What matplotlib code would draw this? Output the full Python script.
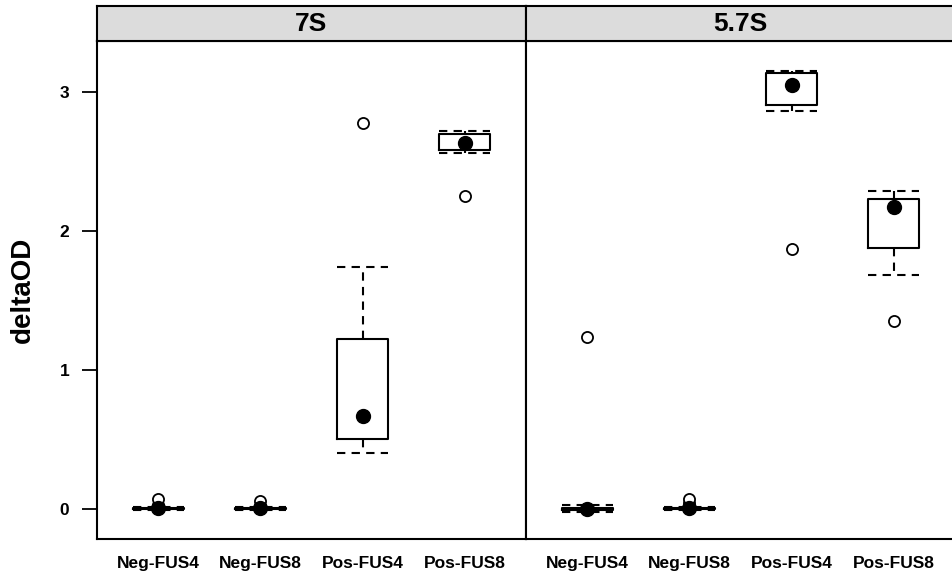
"""Lattice-style box-and-whisker panels of deltaOD for 7S and 5.7S."""

import matplotlib
matplotlib.use("Agg")
import matplotlib.pyplot as plt

plt.rcParams["font.family"] = ["Liberation Sans", "DejaVu Sans"]
plt.rcParams["font.weight"] = "bold"

panels = ["7S", "5.7S"]
groups = ["Neg-FUS4", "Neg-FUS8", "Pos-FUS4", "Pos-FUS8"]

# box stats, one list per panel
whislo = {"7S": [-0.005, -0.005, 0.40, 2.56], "5.7S": [-0.02, -0.005, 2.86, 1.68]}
q1 = {"7S": [0.0, 0.0, 0.50, 2.58], "5.7S": [-0.005, 0.0, 2.91, 1.88]}
med = {"7S": [0.005, 0.005, 0.67, 2.63], "5.7S": [0.0, 0.005, 3.05, 2.17]}
q3 = {"7S": [0.01, 0.01, 1.22, 2.70], "5.7S": [0.01, 0.01, 3.14, 2.23]}
whishi = {"7S": [0.015, 0.015, 1.74, 2.72], "5.7S": [0.03, 0.015, 3.15, 2.29]}
fliers = {
    "7S": [[0.03, 0.07], [0.02, 0.055], [2.78], [2.25]],
    "5.7S": [[1.24], [0.04, 0.075], [1.87], [1.35]],
}

W, H = 953, 573
fig = plt.figure(figsize=(W / 100, H / 100), dpi=100)

panel_left = [97, 526]
panel_w = 429
panel_top, panel_bot = 41, 539
strip_top = 6

dash = (0, (4, 3))
positions = list(range(1, len(groups) + 1))

for i, name in enumerate(panels):
    x0 = panel_left[i] / W
    ax = fig.add_axes([x0, 1 - panel_bot / H, panel_w / W, (panel_bot - panel_top) / H])
    stats = []
    for j, g in enumerate(groups):
        stats.append({
            "label": g,
            "whislo": whislo[name][j],
            "q1": q1[name][j],
            "med": med[name][j],
            "mean": med[name][j],
            "q3": q3[name][j],
            "whishi": whishi[name][j],
            "fliers": fliers[name][j],
        })
    ax.bxp(
        stats,
        positions=positions,
        widths=0.5,
        capwidths=0.5,
        showmeans=True,
        boxprops=dict(color="black", linewidth=1.5),
        whiskerprops=dict(color="black", linewidth=1.5, linestyle=dash),
        capprops=dict(color="black", linewidth=1.5, linestyle=dash),
        medianprops=dict(linestyle="none"),
        meanprops=dict(marker="o", markerfacecolor="black", markeredgecolor="black",
                       markersize=10),
        flierprops=dict(marker="o", markerfacecolor="white", markeredgecolor="black",
                        markersize=8, markeredgewidth=1.3),
    )
    ax.set_xlim(0.4, 4.6)
    ax.set_ylim(-0.216, 3.367)
    ax.set_xticks(positions)
    ax.set_xticklabels(groups, fontsize=12.5, fontweight="bold")
    ax.tick_params(axis="x", length=0, pad=12)
    if i == 0:
        ax.set_yticks([0, 1, 2, 3])
        ax.set_yticklabels(["0", "1", "2", "3"], fontsize=12.5, fontweight="bold")
        ax.tick_params(axis="y", length=11, width=1.3, pad=9)
    else:
        ax.set_yticks([])
    for sp in ax.spines.values():
        sp.set_linewidth(1.5)

    # strip on top of the panel
    sax = fig.add_axes([x0, 1 - panel_top / H, panel_w / W, (panel_top - strip_top) / H])
    sax.set_facecolor("#dcdcdc")
    sax.set_xticks([])
    sax.set_yticks([])
    for sp in sax.spines.values():
        sp.set_linewidth(1.5)
    sax.text(0.5, 0.48, name, transform=sax.transAxes, ha="center", va="center",
             fontsize=19, fontweight="bold")

fig.text(23 / W, 1 - 290 / H, "deltaOD", rotation=90, ha="center", va="center",
         fontsize=20, fontweight="bold")

fig.savefig("out.png", dpi=100)
